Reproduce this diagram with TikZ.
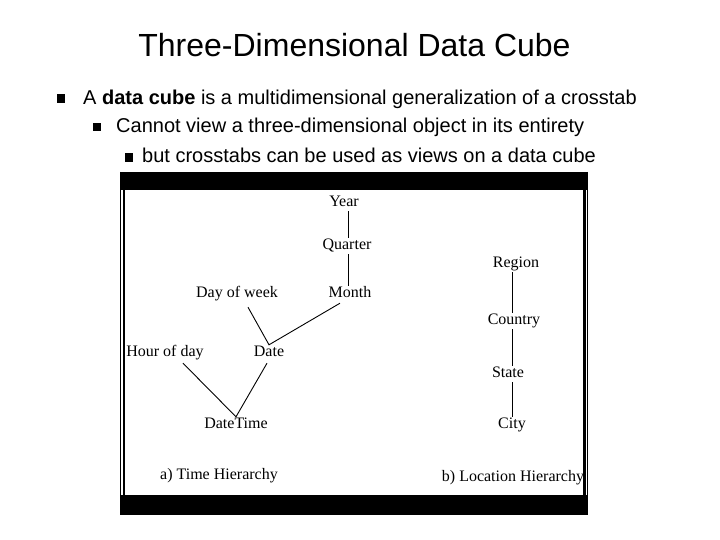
\documentclass[tikz,border=0pt]{standalone}
\usepackage{fontspec}
\setmainfont{Liberation Sans}
\newfontfamily\figfont{Liberation Serif}
\begin{document}
\begin{tikzpicture}[x=1pt,y=-1pt,
  lbl/.style={font=\figfont\fontsize{16}{19}\selectfont, inner sep=1.5pt, text height=10pt, text depth=3pt},
  bul/.style={fill=black, draw=none, minimum size=8.5pt, inner sep=0pt},
  btxt/.style={font=\fontsize{20}{24}\selectfont, anchor=base west, inner sep=0pt},
  link/.style={line width=0.9pt}]
\useasboundingbox (0,0) rectangle (720,540);
% slide text
\node[font=\fontsize{32}{38}\selectfont, anchor=base, inner sep=0pt] (title) at (354.5,57) {Three-Dimensional Data Cube};
\node[bul] (b1) at (61,98.5) {};
\node[btxt] (t1) at (83,105) {A \textbf{data cube} is a multidimensional generalization of a crosstab};
\node[bul] (b2) at (97,127) {};
\node[btxt] (t2) at (116,133) {Cannot view a three-dimensional object in its entirety};
\node[bul] (b3) at (129,157.5) {};
\node[btxt] (t3) at (142,163) {but crosstabs can be used as views on a data cube};
% frame of the figure
\fill[black] (120,172) rectangle (588,190.5);
\fill[black] (120,494.5) rectangle (588,515);
\draw[line width=1pt] (120.5,172) -- (120.5,515);
\fill[black] (122.5,172) rectangle (124.8,515);
\fill[black] (583.3,172) rectangle (585.6,515);
\draw[line width=1pt] (587.8,172) -- (587.8,515);
% time hierarchy
\node[lbl] (year) at (344,203) {Year};
\node[lbl] (quarter) at (347,246) {Quarter};
\node[lbl] (month) at (350,294) {Month};
\node[lbl] (dow) at (237,294) {Day of week};
\node[lbl] (date) at (269,353) {Date};
\node[lbl] (hour) at (165,353) {Hour of day};
\node[lbl] (dt) at (236,425) {DateTime};
\node[lbl] (capa) at (219,476) {a) Time Hierarchy};
\draw[link] ([xshift=4pt]year.south) -- ([xshift=1pt]quarter.north);
\draw[link] ([xshift=1pt]quarter.south) -- ([xshift=-2pt]month.north);
\draw[link] ([xshift=11pt,yshift=-5pt]dow.south) -- (date.north) -- ([xshift=-10pt,yshift=-1pt]month.south);
\draw[link] ([xshift=18pt,yshift=-2pt]hour.south) -- (dt.north) -- ([xshift=-2pt,yshift=-2pt]date.south);
% location hierarchy
\node[lbl] (region) at (516,264) {Region};
\node[lbl] (country) at (514,321) {Country};
\node[lbl] (state) at (508,374) {State};
\node[lbl] (city) at (512,425) {City};
\node[lbl] (capb) at (513,478) {b) Location Hierarchy};
\draw[link] ([xshift=-4pt]region.south) -- ([xshift=-2pt]country.north);
\draw[link] ([xshift=-2pt]country.south) -- ([xshift=4pt]state.north);
\draw[link] ([xshift=4pt]state.south) -- (city.north);
\end{tikzpicture}
\end{document}
